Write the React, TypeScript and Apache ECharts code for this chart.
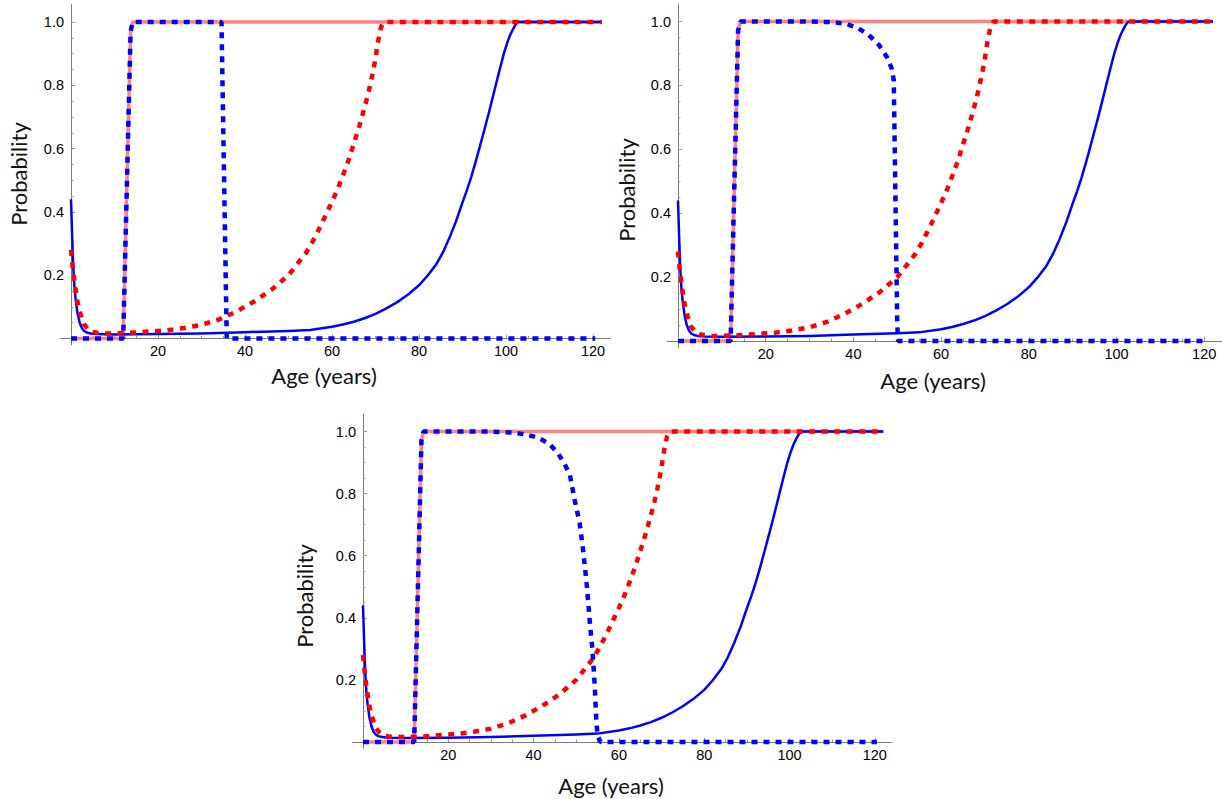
import React, { useEffect, useRef } from "react";
import * as echarts from "echarts";

// ---- data ----
const pinkX = [0, 12, 13.7, 14.2, 122];
const pinkY = [0, 0, 0.97, 1, 1];

const redX = [0, 0.5, 1, 1.5, 2, 3, 4, 5, 6, 8, 10, 14, 18, 22, 26, 30, 34, 38, 42, 46, 50, 54, 55.5, 57, 58.5, 60, 61.3, 62.5, 63.8, 65, 66.3, 67.5, 68.3, 69, 69.5, 70, 70.6, 71.3, 72, 122];
const redY = [0.28, 0.21, 0.16, 0.115, 0.085, 0.045, 0.028, 0.021, 0.018, 0.016, 0.016, 0.018, 0.022, 0.026, 0.033, 0.043, 0.06, 0.085, 0.116, 0.153, 0.2, 0.27, 0.305, 0.345, 0.388, 0.432, 0.472, 0.515, 0.563, 0.615, 0.672, 0.73, 0.772, 0.815, 0.848, 0.885, 0.94, 0.985, 1, 1];

const blueX = [0, 0.25, 0.5, 0.8, 1.1, 1.5, 2, 2.5, 3, 3.6, 4.5, 6, 10, 20, 30, 40, 50, 55, 60, 62.5, 65, 67.5, 70, 72.5, 75, 77.5, 80, 82, 84, 85.5, 87, 88.5, 90, 91, 92, 93, 94, 95, 96, 97, 98, 98.8, 99.5, 100.3, 101, 101.6, 102, 102.4, 102.8, 122];
const blueY = [0.44, 0.33, 0.23, 0.16, 0.12, 0.08, 0.05, 0.033, 0.024, 0.019, 0.016, 0.014, 0.013, 0.014, 0.016, 0.02, 0.024, 0.027, 0.037, 0.044, 0.053, 0.064, 0.078, 0.095, 0.115, 0.139, 0.168, 0.199, 0.235, 0.272, 0.318, 0.37, 0.43, 0.468, 0.51, 0.557, 0.607, 0.658, 0.71, 0.765, 0.82, 0.863, 0.9, 0.935, 0.96, 0.977, 0.987, 0.995, 1, 1];

const dot1X = [0, 12, 13.7, 14.2, 34.6, 35.8, 120.5];
const dot1Y = [0, 0, 0.97, 1, 1, 0, 0];

const dot2X = [0, 12, 13.7, 14.2, 30, 35.5, 38.4, 41.1, 43.5, 45.8, 47.6, 48.7, 49.2, 49.6, 50.0, 50.2, 120.5];
const dot2Y = [0, 0, 0.97, 1, 1, 0.998, 0.992, 0.979, 0.958, 0.927, 0.89, 0.854, 0.817, 0.44, 0.05, 0, 0];

const dot3X = [0, 12, 13.7, 14.2, 30, 32.5, 35.6, 38.3, 41.1, 43.6, 45.7, 47.3, 48.5, 49.6, 50.8, 51.6, 52.5, 53.2, 53.8, 54.3, 54.7, 55, 55.7, 120.5];
const dot3Y = [0, 0, 0.97, 1, 1, 0.998, 0.996, 0.99, 0.98, 0.961, 0.931, 0.894, 0.861, 0.781, 0.705, 0.619, 0.501, 0.383, 0.297, 0.189, 0.071, 0.02, 0, 0];

const xTickStep = 20;
const yTickStep = 0.2;
const xTickMax = 120;
const yTickMax = 1;
const xTitle = "Age (years)";
const yTitle = "Probability";

// ---- layout ----
const PANELS = [
  { x0: 71, pxu: 4.35, y0: 338.5, ypu: 316.5, dx: dot1X, dy: dot1Y, yt: [18, 174], xt: [324, 375] },
  { x0: 678, pxu: 4.385, y0: 341, ypu: 319.5, dx: dot2X, dy: dot2Y, yt: [626, 190], xt: [933, 380] },
  { x0: 363, pxu: 4.265, y0: 742, ypu: 310.5, dx: dot3X, dy: dot3Y, yt: [304.5, 596], xt: [611, 785.5] },
];
const X_MIN = -2.5, X_MAX = 124, Y_MIN = -0.02, Y_MAX = 1.055;

const zip = (xs: number[], ys: number[]) => xs.map((x, i) => [x, ys[i]]);

const AXIS_COLOR = "#7a7a7a";
const TICK_COLOR = "#9a9a9a";
const LABEL_FONT = "Liberation Sans";
const TITLE_FONT = "Lato";

function buildOption() {
  const grid: any[] = [];
  const xAxis: any[] = [];
  const yAxis: any[] = [];
  const series: any[] = [];
  const graphic: any[] = [];

  PANELS.forEach((p, i) => {
    const dataGrid = 2 * i;
    const tickGrid = 2 * i + 1;
    grid.push({
      left: p.x0 + X_MIN * p.pxu,
      width: (X_MAX - X_MIN) * p.pxu,
      top: p.y0 - Y_MAX * p.ypu,
      height: (Y_MAX - Y_MIN) * p.ypu,
      containLabel: false,
    });
    grid.push({
      left: p.x0,
      width: xTickMax * p.pxu,
      top: p.y0 - yTickMax * p.ypu,
      height: yTickMax * p.ypu,
      containLabel: false,
    });

    xAxis.push({
      type: "value",
      gridIndex: dataGrid,
      min: X_MIN,
      max: X_MAX,
      axisLine: { show: true, onZero: true, lineStyle: { color: AXIS_COLOR, width: 1 } },
      axisTick: { show: false },
      axisLabel: { show: false },
      splitLine: { show: false },
    });
    xAxis.push({
      type: "value",
      gridIndex: tickGrid,
      min: 0,
      max: xTickMax,
      interval: xTickStep,
      axisLine: { show: false },
      axisTick: { show: true, inside: true, length: 4, lineStyle: { color: TICK_COLOR } },
      minorTick: { show: true, splitNumber: 4, length: 2.5, lineStyle: { color: TICK_COLOR } },
      axisLabel: {
        margin: 5,
        fontSize: 14.5,
        fontFamily: LABEL_FONT,
        color: "#000",
        formatter: (v: number) => (v === 0 ? "" : String(v)),
      },
      splitLine: { show: false },
    });

    yAxis.push({
      type: "value",
      gridIndex: dataGrid,
      min: Y_MIN,
      max: Y_MAX,
      axisLine: { show: true, onZero: true, lineStyle: { color: AXIS_COLOR, width: 1 } },
      axisTick: { show: false },
      axisLabel: { show: false },
      splitLine: { show: false },
    });
    yAxis.push({
      type: "value",
      gridIndex: tickGrid,
      min: 0,
      max: yTickMax,
      interval: yTickStep,
      axisLine: { show: false },
      axisTick: { show: true, inside: true, length: 4, lineStyle: { color: TICK_COLOR } },
      minorTick: { show: true, splitNumber: 4, length: 2.5, lineStyle: { color: TICK_COLOR } },
      axisLabel: {
        margin: 7,
        fontSize: 14.5,
        fontFamily: LABEL_FONT,
        color: "#000",
        formatter: (v: number) => (v === 0 ? "" : v.toFixed(1)),
      },
      splitLine: { show: false },
    });

    const common = {
      type: "line",
      xAxisIndex: dataGrid,
      yAxisIndex: dataGrid,
      showSymbol: false,
      symbol: "none",
      silent: true,
    };
    series.push({ ...common, name: "pink" + i, data: zip(pinkX, pinkY), lineStyle: { color: "#ff8282", width: 3.5 } });
    series.push({ ...common, name: "blue" + i, data: zip(blueX, blueY), lineStyle: { color: "#0000ff", width: 2.5, join: "round" } });
    series.push({ ...common, name: "red" + i, data: zip(redX, redY), lineStyle: { color: "#ff0000", width: 4.5, type: [6, 6.5], cap: "butt" } });
    series.push({ ...common, name: "dot" + i, data: zip(p.dx, p.dy), lineStyle: { color: "#0000ff", width: 4.5, type: [6, 6], cap: "butt" } });

    graphic.push({
      type: "text",
      x: p.yt[0],
      y: p.yt[1],
      rotation: Math.PI / 2,
      style: { text: yTitle, font: `22px ${TITLE_FONT}`, fill: "#111", align: "center", verticalAlign: "middle" },
    });
    graphic.push({
      type: "text",
      x: p.xt[0],
      y: p.xt[1],
      style: { text: xTitle, font: `22px ${TITLE_FONT}`, fill: "#111", align: "center", verticalAlign: "middle" },
    });
  });

  return { animation: false, backgroundColor: "#fff", grid, xAxis, yAxis, series, graphic };
}

export default function App() {
  const ref = useRef<HTMLDivElement>(null);
  useEffect(() => {
    document.body.style.margin = "0";
    if (!ref.current) return;
    const chart = echarts.init(ref.current, undefined, { renderer: "svg" });
    chart.setOption(buildOption() as any);
    return () => chart.dispose();
  }, []);
  return <div ref={ref} style={{ position: "absolute", left: 0, top: 0, width: 1222, height: 799 }} />;
}
